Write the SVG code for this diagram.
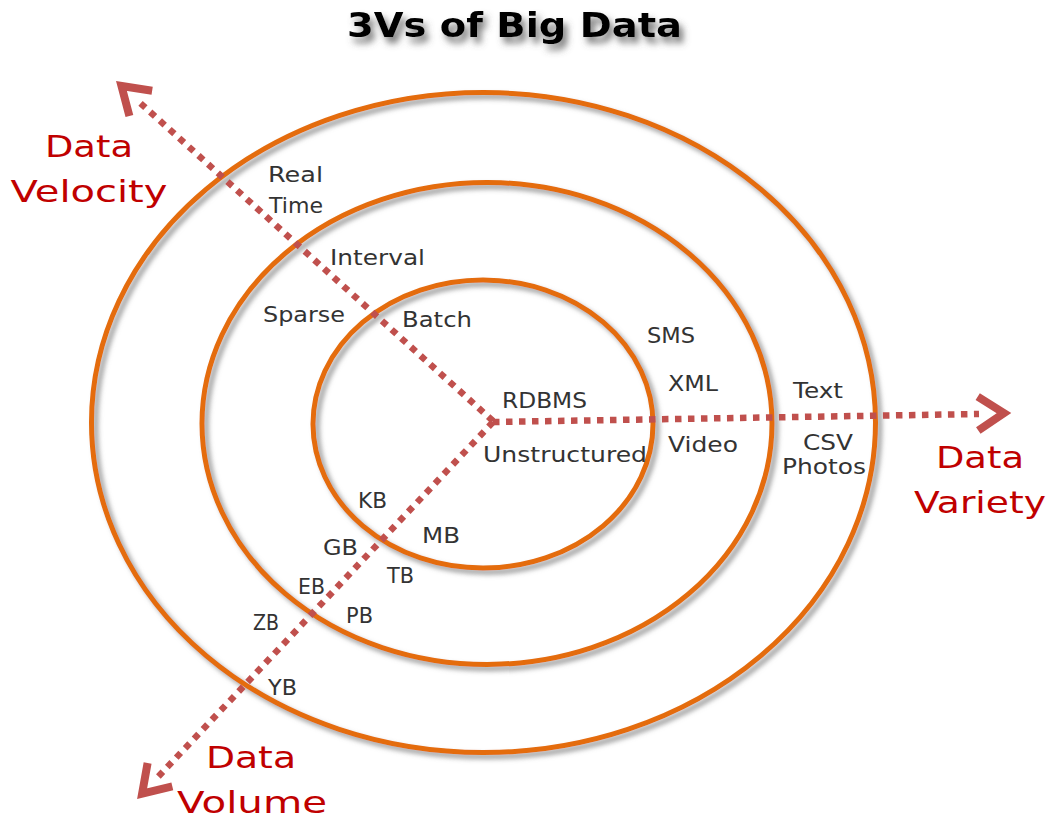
<svg xmlns="http://www.w3.org/2000/svg" width="1048" height="822" viewBox="0 0 1048 822">
<defs>
<filter id="sh" x="-10%" y="-10%" width="120%" height="120%">
<feDropShadow dx="4" dy="4" stdDeviation="2.5" flood-color="#7a7a7a" flood-opacity="0.75"/>
</filter>
<filter id="tsh" x="-10%" y="-30%" width="120%" height="180%">
<feDropShadow dx="4" dy="6" stdDeviation="3.5" flood-color="#555" flood-opacity="0.8"/>
</filter>
<path id="chev" d="M-32,-17 L-6,0 L-32,17" fill="none" stroke="#C0504D" stroke-width="8" stroke-linejoin="miter" stroke-miterlimit="10"/>
</defs>
<style>
.ring{fill:none;stroke:#E46C0A;stroke-width:5;filter:url(#sh)}
.axis{fill:none;stroke:#C0504D;stroke-width:6.5;stroke-dasharray:6.5 6.5}
.lbl{font-family:"DejaVu Sans","Liberation Sans",sans-serif;font-size:22px;fill:#333}
.ax{font-family:"DejaVu Sans","Liberation Sans",sans-serif;font-size:31px;fill:#C00000;text-anchor:middle}
.title{font-family:"DejaVu Sans","Liberation Sans",sans-serif;font-size:34px;font-weight:bold;fill:#000;filter:url(#tsh)}
</style>
<rect width="1048" height="822" fill="#fff"/>
<text class="title" x="347" y="37" textLength="335" lengthAdjust="spacingAndGlyphs">3Vs of Big Data</text>
<g id="rings">
<ellipse id="outer" class="ring" cx="483.5" cy="422.5" rx="392" ry="330"/>
<ellipse id="middle" class="ring" cx="487" cy="423.5" rx="285" ry="241"/>
<ellipse id="inner" class="ring" cx="483" cy="424" rx="170" ry="144"/>
</g>
<g id="connectors">
<line class="axis" x1="493" y1="421" x2="138" y2="101"/>
<line class="axis" x1="493" y1="422" x2="157" y2="778"/>
<line class="axis" x1="493" y1="422" x2="979" y2="414"/>
<use href="#chev" transform="translate(117,82) rotate(-138)"/>
<use href="#chev" transform="translate(138,798) rotate(133.35)"/>
<use href="#chev" transform="translate(1010,413) rotate(-1)"/>
</g>
<g id="velocity">
<text class="ax" x="89" y="157" textLength="88" lengthAdjust="spacingAndGlyphs">Data</text>
<text class="ax" x="89" y="202" textLength="157" lengthAdjust="spacingAndGlyphs">Velocity</text>
<text class="lbl" x="268" y="182" textLength="55" lengthAdjust="spacingAndGlyphs">Real</text>
<text class="lbl" x="269" y="213" textLength="54" lengthAdjust="spacingAndGlyphs">Time</text>
<text class="lbl" x="330" y="265" textLength="95" lengthAdjust="spacingAndGlyphs">Interval</text>
<text class="lbl" x="263" y="322" textLength="82" lengthAdjust="spacingAndGlyphs">Sparse</text>
<text class="lbl" x="402" y="327" textLength="70" lengthAdjust="spacingAndGlyphs">Batch</text>
</g>
<g id="variety">
<text class="ax" x="980" y="468" textLength="88" lengthAdjust="spacingAndGlyphs">Data</text>
<text class="ax" x="980" y="513" textLength="132" lengthAdjust="spacingAndGlyphs">Variety</text>
<text class="lbl" x="502" y="408" textLength="85" lengthAdjust="spacingAndGlyphs">RDBMS</text>
<text class="lbl" x="483" y="462" textLength="164" lengthAdjust="spacingAndGlyphs">Unstructured</text>
<text class="lbl" x="647" y="343" textLength="48" lengthAdjust="spacingAndGlyphs">SMS</text>
<text class="lbl" x="668" y="391" textLength="50" lengthAdjust="spacingAndGlyphs">XML</text>
<text class="lbl" x="668" y="452" textLength="70" lengthAdjust="spacingAndGlyphs">Video</text>
<text class="lbl" x="793" y="398" textLength="50" lengthAdjust="spacingAndGlyphs">Text</text>
<text class="lbl" x="803" y="450" textLength="50" lengthAdjust="spacingAndGlyphs">CSV</text>
<text class="lbl" x="782" y="474" textLength="84" lengthAdjust="spacingAndGlyphs">Photos</text>
</g>
<g id="volume">
<text class="ax" x="251" y="768" textLength="90" lengthAdjust="spacingAndGlyphs">Data</text>
<text class="ax" x="252" y="813" textLength="150" lengthAdjust="spacingAndGlyphs">Volume</text>
<text class="lbl" x="358" y="508" textLength="29" lengthAdjust="spacingAndGlyphs">KB</text>
<text class="lbl" x="422" y="543" textLength="38" lengthAdjust="spacingAndGlyphs">MB</text>
<text class="lbl" x="323" y="555" textLength="35" lengthAdjust="spacingAndGlyphs">GB</text>
<text class="lbl" x="387" y="583" textLength="27" lengthAdjust="spacingAndGlyphs">TB</text>
<text class="lbl" x="298" y="594" textLength="27" lengthAdjust="spacingAndGlyphs">EB</text>
<text class="lbl" x="346" y="623" textLength="27" lengthAdjust="spacingAndGlyphs">PB</text>
<text class="lbl" x="253" y="630" textLength="26" lengthAdjust="spacingAndGlyphs">ZB</text>
<text class="lbl" x="268" y="695" textLength="29" lengthAdjust="spacingAndGlyphs">YB</text>
</g>
</svg>
